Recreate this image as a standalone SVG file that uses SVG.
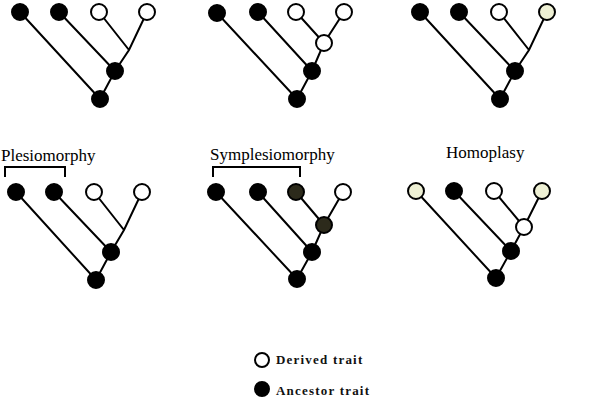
<svg xmlns="http://www.w3.org/2000/svg" width="600" height="400" viewBox="0 0 600 400">
<style>
.e{stroke:#000;stroke-width:2;fill:none}
.b{fill:#000;stroke:#000;stroke-width:2}
.w{fill:#fff;stroke:#000;stroke-width:2}
.y{fill:#eef0d4;stroke:#000;stroke-width:2}
.o{fill:#2c2a1b;stroke:#000;stroke-width:2}
.t{font-family:"Liberation Serif","Times New Roman",serif;font-size:17px;fill:#000}
.l{font-family:"Liberation Serif","Times New Roman",serif;font-size:13px;font-weight:bold;letter-spacing:1.2px;fill:#111}
</style>
<rect width="600" height="400" fill="#fff"/>
<g id="connectors">
<path class="e" d="M20,12L100,99M59,12L115,71M99,12L129,50M147,12L129,50L115,71L100,99"/>
<path class="e" d="M217,13L297,99M258,12L312,71M296,12L324,43M344,12L324,43L312,71L297,99"/>
<path class="e" d="M420,12L500,99M459,12L515,71M499,12L529,50M547,12L529,50L515,71L500,99"/>
<path class="e" d="M16,192L96,280M54,192L111,252M94,192L124,230M142,192L124,230L111,252L96,280"/>
<path class="e" d="M216,192L297,279M258,192L312,252M296,192L324,225M343,192L324,225L312,252L297,279"/>
<path class="e" d="M416,191L496,278M454,191L511,251M494,191L524,227M542,191L524,227L511,251L496,278"/>
<path class="e" d="M5,177V167H65V177" stroke-width="1.3"/>
<path class="e" d="M213,177V167H300V177" stroke-width="1.3"/>
</g>
<g id="tree1">
<circle class="b" cx="20" cy="12" r="8"/><circle class="b" cx="59" cy="12" r="8"/>
<circle class="w" cx="99" cy="12" r="8"/><circle class="w" cx="147" cy="12" r="8"/>
<circle class="b" cx="115" cy="71" r="8"/><circle class="b" cx="100" cy="99" r="8"/>
</g>
<g id="tree2">
<circle class="b" cx="217" cy="13" r="8"/><circle class="b" cx="258" cy="12" r="8"/>
<circle class="w" cx="296" cy="12" r="8"/><circle class="w" cx="344" cy="12" r="8"/>
<circle class="w" cx="324" cy="43" r="8"/>
<circle class="b" cx="312" cy="71" r="8"/><circle class="b" cx="297" cy="99" r="8"/>
</g>
<g id="tree3">
<circle class="b" cx="420" cy="12" r="8"/><circle class="b" cx="459" cy="12" r="8"/>
<circle class="w" cx="499" cy="12" r="8"/><circle class="y" cx="547" cy="12" r="8"/>
<circle class="b" cx="515" cy="71" r="8"/><circle class="b" cx="500" cy="99" r="8"/>
</g>
<g id="tree4">
<text class="t" x="1" y="161">Plesiomorphy</text>
<circle class="b" cx="16" cy="192" r="8"/><circle class="b" cx="54" cy="192" r="8"/>
<circle class="w" cx="94" cy="192" r="8"/><circle class="w" cx="142" cy="192" r="8"/>
<circle class="b" cx="111" cy="252" r="8"/><circle class="b" cx="96" cy="280" r="8"/>
</g>
<g id="tree5">
<text class="t" x="210" y="160">Symplesiomorphy</text>
<circle class="b" cx="216" cy="192" r="8"/><circle class="b" cx="258" cy="192" r="8"/>
<circle class="o" cx="296" cy="192" r="8"/><circle class="w" cx="343" cy="192" r="8"/>
<circle class="o" cx="324" cy="225" r="8"/>
<circle class="b" cx="312" cy="252" r="8"/><circle class="b" cx="297" cy="279" r="8"/>
</g>
<g id="tree6">
<text class="t" x="446" y="158">Homoplasy</text>
<circle class="y" cx="416" cy="191" r="8"/><circle class="b" cx="454" cy="191" r="8"/>
<circle class="w" cx="494" cy="191" r="8"/><circle class="y" cx="542" cy="191" r="8"/>
<circle class="w" cx="524" cy="227" r="8"/>
<circle class="b" cx="511" cy="251" r="8"/><circle class="b" cx="496" cy="278" r="8"/>
</g>
<g id="legend">
<circle class="w" cx="262" cy="360" r="7"/>
<text class="l" x="276" y="364">Derived trait</text>
<circle class="b" cx="262" cy="389" r="7"/>
<text class="l" x="276" y="395">Ancestor trait</text>
</g>
</svg>
